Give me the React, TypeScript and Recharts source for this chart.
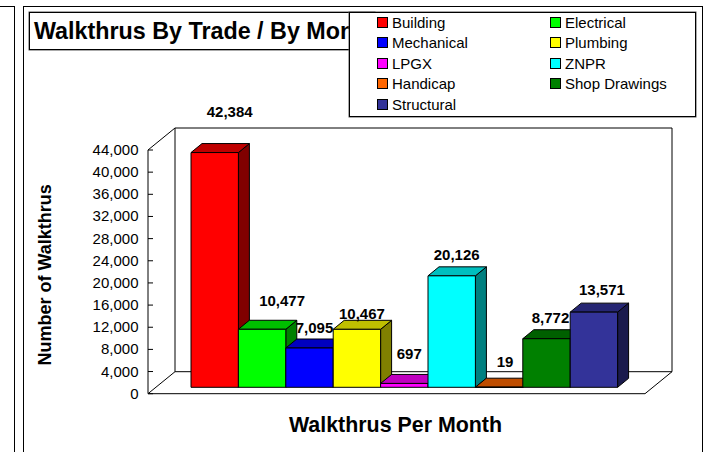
import { BarChart, Bar, XAxis, YAxis, Legend, LabelList, Customized, usePlotArea } from 'recharts';

const FONT = '"Liberation Sans", Arial, sans-serif';

const CATEGORY = 'Walkthrus Per Month';
const TRADES = ['Building', 'Electrical', 'Mechanical', 'Plumbing', 'LPGX', 'ZNPR', 'Handicap', 'Shop Drawings', 'Structural'];
const VALUES = [42384, 10477, 7095, 10467, 697, 20126, 19, 8772, 13571];
const COLORS = ['#ff0000', '#00ff00', '#0000ff', '#ffff00', '#ff00ff', '#00ffff', '#ff6600', '#008000', '#333399'];
const TICKS = [0, 4000, 8000, 12000, 16000, 20000, 24000, 28000, 32000, 36000, 40000, 44000];

// hand placed labels in the original, [dx, dy] from the top of each bar
const LABEL_NUDGE = [
  [15, -32], [20, -19], [5, -11], [5, -6], [5, -20], [5, -12], [6, -16], [4, -12], [8, -13],
];

const row: any = { [CATEGORY]: CATEGORY };
TRADES.forEach((t, i) => { row[t] = VALUES[i]; });
const data = [row];

// fake 3d
const WALL_DX = 27;
const WALL_DY = 22;
const BAR_DX = 11;
const BAR_DY = 9;
const BAR_LIFT = 6.4;

function shade(hex: string, f: number) {
  const n = parseInt(hex.slice(1), 16);
  const c = (s: number) => Math.round(((n >> s) & 255) * f);
  return `rgb(${c(16)},${c(8)},${c(0)})`;
}

function Bar3D(props: any) {
  const { x, y, width, height, fill } = props;
  const top = y - BAR_LIFT;
  const bottom = top + height;
  const right = x + width;
  return (
    <g stroke="#000" strokeWidth={1} strokeLinejoin="round">
      <polygon fill={shade(fill, 0.5)} points={`${right},${top} ${right + BAR_DX},${top - BAR_DY} ${right + BAR_DX},${bottom - BAR_DY} ${right},${bottom}`} />
      <polygon fill={shade(fill, 0.75)} points={`${x},${top} ${x + BAR_DX},${top - BAR_DY} ${right + BAR_DX},${top - BAR_DY} ${right},${top}`} />
      <rect x={x} y={top} width={width} height={height} fill={fill} />
    </g>
  );
}

function Walls() {
  const p = usePlotArea();
  if (!p) return null;
  const l = p.x;
  const r = p.x + p.width;
  const t = p.y;
  const b = p.y + p.height;
  return (
    <g fill="none" stroke="#000" strokeWidth={1}>
      <polyline points={`${l},${t} ${l + WALL_DX},${t - WALL_DY} ${r + WALL_DX},${t - WALL_DY} ${r + WALL_DX},${b - WALL_DY} ${r},${b}`} />
      <polyline points={`${l + WALL_DX},${t - WALL_DY} ${l + WALL_DX},${b - WALL_DY} ${r + WALL_DX},${b - WALL_DY}`} />
      <line x1={l} y1={b} x2={l + WALL_DX} y2={b - WALL_DY} />
    </g>
  );
}

function YTick(props: any) {
  const { x, y, payload } = props;
  return (
    <g>
      <line x1={x} x2={x + 5} y1={y} y2={y} stroke="#000" />
      <text x={x - 9.5} y={y + 5} textAnchor="end" fontSize={15} fontFamily={FONT} fill="#000">
        {payload.value.toLocaleString('en-US')}
      </text>
    </g>
  );
}

function BarLabel(i: number) {
  return (props: any) => {
    const { x, y, width, value } = props;
    return (
      <text
        x={x + width / 2 + LABEL_NUDGE[i][0]}
        y={y - BAR_LIFT + LABEL_NUDGE[i][1] - 9 + 5}
        textAnchor="middle"
        fontSize={15}
        fontWeight="bold"
        fontFamily={FONT}
        fill="#000"
      >
        {value.toLocaleString('en-US')}
      </text>
    );
  };
}

function LegendBox({ payload }: any) {
  const items = [...(payload || [])].sort((a: any, b: any) => TRADES.indexOf(a.value) - TRADES.indexOf(b.value));
  return (
    <div style={{ width: 345, height: 103, background: '#fff', border: '1px solid #000', boxShadow: '0 0 0 0.5px #555', position: 'relative', fontFamily: FONT, fontSize: 15, color: '#000' }}>
      {items.map((item: any, i: number) => (
        <div key={item.value} style={{ position: 'absolute', left: i % 2 ? 200 : 27, top: -1 + Math.floor(i / 2) * 20.5, height: 20, display: 'flex', alignItems: 'center', whiteSpace: 'nowrap' }}>
          <span style={{ width: 9, height: 9, background: item.color, border: '1px solid #000', marginRight: 4 }} />
          {item.value}
        </div>
      ))}
    </div>
  );
}

export default function App() {
  return (
    <div style={{ position: 'absolute', left: 0, top: 0, width: 707, height: 452, overflow: 'hidden', background: '#fff' }}>
      {/* neighbouring panel edge + chart frame */}
      <div style={{ position: 'absolute', left: -2, top: 6, width: 16, height: 460, border: '1px solid #000', borderLeft: 'none', boxSizing: 'content-box' }} />
      <div style={{ position: 'absolute', left: 23, top: 6, width: 678, height: 460, border: '1.5px solid #000' }} />
      <BarChart
        width={707}
        height={452}
        data={data}
        barCategoryGap={0}
        barGap={0}
        margin={{ top: 150, left: 78, right: 62, bottom: 0 }}
        style={{ position: 'absolute', left: 0, top: 0 }}
      >
        <Customized component={Walls} />
        <XAxis
          dataKey={CATEGORY}
          tick={false}
          tickLine={false}
          height={58.3}
          padding={{ left: 43, right: 27.3 }}
          stroke="#000"
          label={{ value: 'Walkthrus Per Month', position: 'insideBottom', offset: 20, fontSize: 21.4, fontWeight: 'bold', fontFamily: FONT, fill: '#000', dx: -1 }}
        />
        <YAxis
          width={70}
          domain={[0, 44000]}
          ticks={TICKS}
          interval={0}
          tickLine={false}
          tickSize={0}
          tickMargin={0}
          tick={<YTick />}
          stroke="#000"
          label={{ value: 'Number of Walkthrus', angle: -90, position: 'insideLeft', offset: 0, dx: -33, dy: 3, fontSize: 18, fontWeight: 'bold', fontFamily: FONT, fill: '#000', style: { textAnchor: 'middle' } }}
        />
        {TRADES.map((t, i) => (
          <Bar key={t} dataKey={t} fill={COLORS[i]} barSize={47.4} isAnimationActive={false} shape={<Bar3D />}>
            <LabelList dataKey={t} content={BarLabel(i)} />
          </Bar>
        ))}
        <Legend
          layout="horizontal"
          verticalAlign="middle"
          content={<LegendBox />}
          wrapperStyle={{ position: 'absolute', left: 349, top: 12, width: 347, height: 105, margin: 0, zIndex: 3 }}
        />
      </BarChart>
      <div style={{ position: 'absolute', left: 29, top: 12, width: 340, height: 36, border: '1px solid #000', boxShadow: '0 0 0 0.5px #555', fontFamily: FONT, fontSize: 23.3, fontWeight: 'bold', lineHeight: '36px', paddingLeft: 4, whiteSpace: 'nowrap', overflow: 'hidden', boxSizing: 'content-box' }}>
        Walkthrus By Trade / By Month
      </div>
    </div>
  );
}
